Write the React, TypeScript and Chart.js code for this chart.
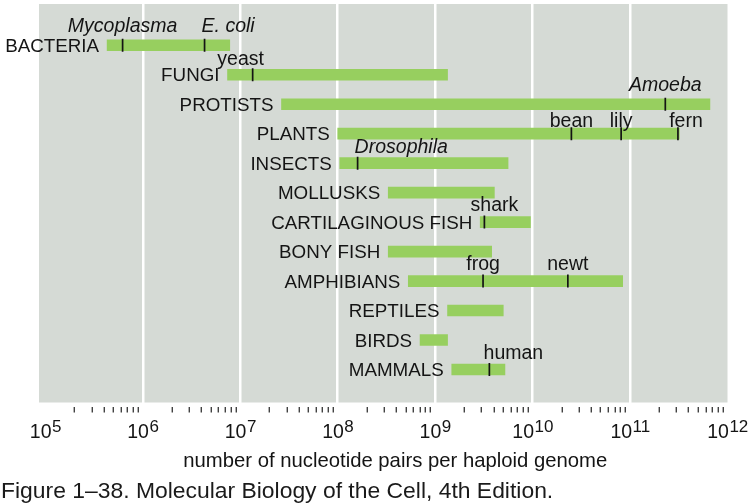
import { useEffect, useRef } from 'react';
import { Chart, registerables } from 'chart.js';

Chart.register(...registerables);

// ---- data ----
const categories = [
  'BACTERIA', 'FUNGI', 'PROTISTS', 'PLANTS', 'INSECTS', 'MOLLUSKS',
  'CARTILAGINOUS FISH', 'BONY FISH', 'AMPHIBIANS', 'REPTILES', 'BIRDS', 'MAMMALS',
];
const rangeLow = [4.3e5, 7.4e6, 2.65e7, 1.0e8, 1.05e8, 3.3e8, 2.9e9, 3.3e8, 5.3e8, 1.34e9, 7.0e8, 1.48e9];
const rangeHigh = [7.8e6, 1.34e9, 6.6e11, 3.2e11, 5.6e9, 4.05e9, 9.5e9, 3.8e9, 8.4e10, 5.0e9, 1.34e9, 5.2e9];

const exampleNames = ['Mycoplasma', 'E. coli', 'yeast', 'Amoeba', 'bean', 'lily', 'fern', 'Drosophila', 'shark', 'frog', 'newt', 'human'];
const exampleGroup = [0, 0, 1, 2, 3, 3, 3, 4, 6, 8, 8, 11];
const exampleSize = [6.2e5, 4.3e6, 1.34e7, 2.3e11, 2.5e10, 8.1e10, 3.1e11, 1.6e8, 3.2e9, 3.1e9, 2.3e10, 3.6e9];
const exampleItalic = [true, true, false, true, false, false, false, true, false, false, false, false];

const decadeExponents = [5, 6, 7, 8, 9, 10, 11, 12];
const minorMultipliers = [2, 3, 4, 5, 6, 7, 8, 9];
const axisTitle = 'number of nucleotide pairs per haploid genome';
const caption = 'Figure 1\u201338. Molecular Biology of the Cell, 4th Edition.';

// ---- style (label placement) ----
const exampleAnchor = ['center', 'left', 'center', 'center', 'center', 'center', 'center', 'left', 'center', 'center', 'center', 'center'];
const exampleDx = [0, -3, -12, 0, 0, 0, 8, -3, 10, 0, 0, 24];
const exampleDy = [-13, -13, -10, -13, -7, -7, -7, -10.5, -11, -11, -11, -10];

const FONT = '"Liberation Sans", Arial, Helvetica, sans-serif';
const GRAY = 'rgb(213,218,213)';
const GREEN = 'rgb(151,207,95)';
const INK = '#141414';

const decorPlugin = {
  id: 'decor',
  beforeDraw(chart: any) {
    const { ctx, chartArea: a } = chart;
    ctx.save();
    ctx.fillStyle = GRAY;
    ctx.fillRect(a.left, a.top, a.right - a.left, a.bottom - a.top);
    ctx.restore();
  },
  afterDraw(chart: any) {
    const { ctx, chartArea: a } = chart;
    const xs = chart.scales.x;
    const ys = chart.scales.y;
    ctx.save();
    ctx.fillStyle = INK;
    ctx.textBaseline = 'alphabetic';

    // category labels, right-aligned at bar start
    ctx.font = `18.8px ${FONT}`;
    ctx.textAlign = 'right';
    categories.forEach((c, i) => {
      ctx.fillText(c, xs.getPixelForValue(rangeLow[i]) - 8, ys.getPixelForValue(i) + 6.7);
    });

    // example labels above the markers
    exampleNames.forEach((n, k) => {
      ctx.font = `${exampleItalic[k] ? 'italic ' : ''}19.5px ${FONT}`;
      ctx.textAlign = exampleAnchor[k] as CanvasTextAlign;
      ctx.fillText(n, xs.getPixelForValue(exampleSize[k]) + exampleDx[k], ys.getPixelForValue(exampleGroup[k]) + exampleDy[k]);
    });

    // decade tick labels 10^n
    ctx.textAlign = 'left';
    const baseY = a.bottom + 35.5;
    decadeExponents.forEach((e) => {
      const px = xs.getPixelForValue(Math.pow(10, e));
      ctx.font = `19.5px ${FONT}`;
      const w1 = ctx.measureText('10').width;
      ctx.font = `17px ${FONT}`;
      const sup = String(e);
      const w2 = ctx.measureText(sup).width;
      const x0 = px - (w1 + w2) / 2;
      ctx.font = `19.5px ${FONT}`;
      ctx.fillText('10', x0, baseY);
      ctx.font = `17px ${FONT}`;
      ctx.fillText(sup, x0 + w1 + 0.5, baseY - 6.5);
    });

    // axis title
    ctx.font = `20.3px ${FONT}`;
    ctx.textAlign = 'center';
    ctx.fillText(axisTitle, (a.left + a.right) / 2 + 12, a.bottom + 64);

    // caption
    ctx.font = `22.9px ${FONT}`;
    ctx.textAlign = 'left';
    ctx.fillStyle = '#1a1a1a';
    ctx.fillText(caption, 1, chart.height - 6.5);
    ctx.restore();
  },
};

export default function App() {
  const ref = useRef<HTMLCanvasElement | null>(null);
  useEffect(() => {
    document.body.style.margin = '0';
    const canvas = ref.current;
    if (!canvas) return;
    const chart = new Chart(canvas, {
      type: 'bar',
      data: {
        datasets: [
          {
            type: 'scatter',
            order: 0,
            data: exampleNames.map((_, k) => ({ x: exampleSize[k], y: exampleGroup[k] })),
            pointStyle: 'line',
            rotation: 90,
            radius: 6.5,
            borderWidth: 1.7,
            borderColor: INK,
            backgroundColor: INK,
          } as any,
          {
            type: 'bar',
            order: 1,
            indexAxis: 'y',
            data: categories.map((_, i) => ({ x: [rangeLow[i], rangeHigh[i]], y: i })) as any,
            backgroundColor: GREEN,
            borderWidth: 0,
            barThickness: 11,
          } as any,
        ],
      },
      options: {
        responsive: false,
        animation: false,
        events: [],
        layout: { autoPadding: false, padding: { left: 39, right: 21.5, top: 4, bottom: 91.5 } },
        plugins: { legend: { display: false }, tooltip: { enabled: false }, title: { display: false } },
        scales: {
          x: {
            type: 'logarithmic',
            position: 'bottom',
            offset: false,
            min: 8.6e4,
            max: 1e12,
            afterBuildTicks(scale: any) {
              const t: any[] = [];
              decadeExponents.forEach((e, k) => {
                t.push({ value: Math.pow(10, e), major: true });
                if (k < decadeExponents.length - 1) {
                  minorMultipliers.forEach((m) => t.push({ value: m * Math.pow(10, e), major: false }));
                }
              });
              scale.ticks = t;
            },
            ticks: { display: false },
            border: { display: false },
            grid: {
              offset: false,
              lineWidth: 2.5,
              color: (c: any) =>
                c.tick && c.tick.major && c.tick.value > 1e5 && c.tick.value < 1e12 ? '#ffffff' : 'rgba(0,0,0,0)',
              drawTicks: true,
              tickLength: 10,
              tickWidth: 1.2,
              tickColor: (c: any) => (c.tick && !c.tick.major ? '#222222' : 'rgba(0,0,0,0)'),
              tickBorderDash: [0, 4, 6, 100],
            },
          },
          y: {
            type: 'linear',
            reverse: true,
            offset: false,
            min: -1.4,
            max: 12.12,
            display: false,
            grid: { display: false, offset: false },
          },
        },
      },
      plugins: [decorPlugin],
    } as any);
    return () => chart.destroy();
  }, []);
  return (
    <div style={{ width: 749, height: 504, position: 'relative' }}>
      <canvas ref={ref} width={749} height={504} style={{ display: 'block', width: 749, height: 504 }} />
    </div>
  );
}
